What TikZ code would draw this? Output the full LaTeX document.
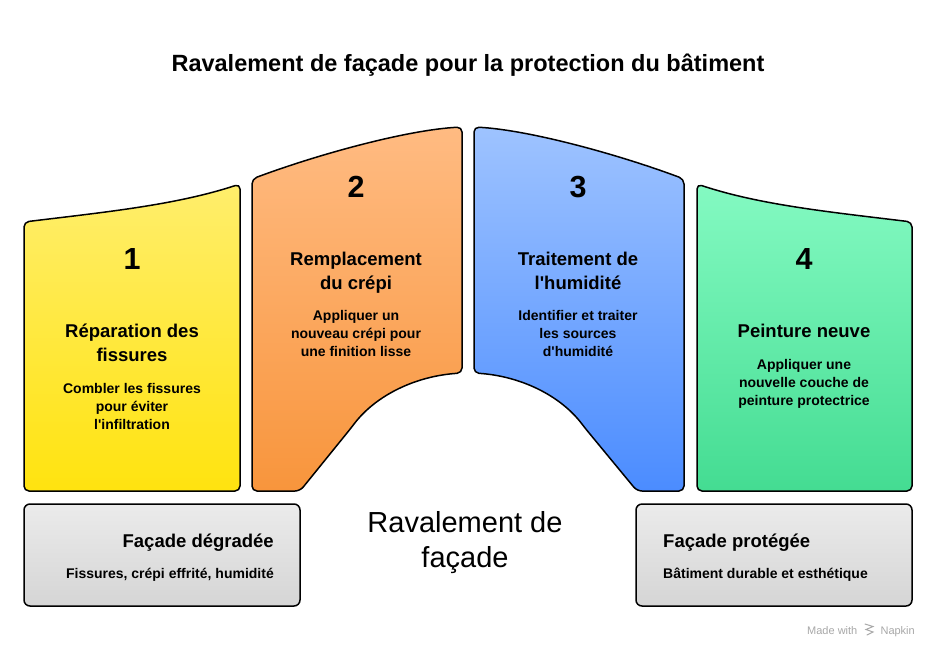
\documentclass[tikz,border=0pt]{standalone}
\usepackage{fontspec}
\setmainfont{Liberation Sans}
\definecolor{ytop}{HTML}{FFEE6C}
\definecolor{ybot}{HTML}{FFE30F}
\definecolor{otop}{HTML}{FFBB82}
\definecolor{obot}{HTML}{F8953C}
\definecolor{btop}{HTML}{9EC3FF}
\definecolor{bbot}{HTML}{4B8CFF}
\definecolor{gtop}{HTML}{84FAC2}
\definecolor{gbot}{HTML}{44DC92}
\definecolor{boxtop}{HTML}{EBEBEB}
\definecolor{boxbot}{HTML}{D5D5D5}
\definecolor{wm}{HTML}{A8A8A8}
\begin{document}
\begin{tikzpicture}[x=1pt,y=-1pt,
  panel/.style={draw=black, line width=1.5pt, rounded corners=5pt, line join=round},
  gbox/.style={draw=black, line width=1.5pt, rounded corners=6pt, top color=boxtop, bottom color=boxbot},
  num/.style={font=\bfseries\fontsize{30.5}{36}\selectfont, anchor=base, inner sep=0pt},
  ttl/.style={font=\bfseries\fontsize{18.5}{22}\selectfont, anchor=base, inner sep=0pt},
  body/.style={font=\bfseries\fontsize{14}{17}\selectfont, anchor=base, inner sep=0pt},
  big/.style={font=\fontsize{29}{34}\selectfont, anchor=base, inner sep=0pt},
]
\useasboundingbox[fill=white] (0,0) rectangle (936,654);

% title
\node[font=\bfseries\fontsize{23.5}{28}\selectfont, anchor=base, inner sep=0pt] (title) at (468,71) {Ravalement de façade pour la protection du bâtiment};

% panels
\path[panel, top color=ytop, bottom color=ybot]
  (24,491) -- (24,222) .. controls (106,212) and (176,205) .. (240,184) -- (240,491) -- cycle;
\path[panel, top color=otop, bottom color=obot]
  (252,491) -- (252,179) .. controls (316,155) and (406,130) .. (462,127) -- (462,373)
  .. controls (416,376) and (376,395) .. (351,428) -- (300,491) -- cycle;
\path[panel, top color=btop, bottom color=bbot]
  (637,491) -- (585,428) .. controls (560,395) and (520,376) .. (474,373) -- (474,127)
  .. controls (530,130) and (620,155) .. (684,179) -- (684,491) -- cycle;
\path[panel, top color=gtop, bottom color=gbot]
  (697,491) -- (697,184) .. controls (760,205) and (830,212) .. (912,222) -- (912,491) -- cycle;

% panel 1
\node[num] (n1) at (132,269) {1};
\node[ttl] (t1a) at (132,337) {Réparation des};
\node[ttl] (t1b) at (132,361) {fissures};
\node[body] (d1a) at (132,393) {Combler les fissures};
\node[body] (d1b) at (132,411) {pour éviter};
\node[body] (d1c) at (132,429) {l\textquotesingle infiltration};

% panel 2
\node[num] (n2) at (356,197) {2};
\node[ttl] (t2a) at (356,265) {Remplacement};
\node[ttl] (t2b) at (356,289) {du crépi};
\node[body] (d2a) at (356,320) {Appliquer un};
\node[body] (d2b) at (356,338) {nouveau crépi pour};
\node[body] (d2c) at (356,356) {une finition lisse};

% panel 3
\node[num] (n3) at (578,197) {3};
\node[ttl] (t3a) at (578,265) {Traitement de};
\node[ttl] (t3b) at (578,289) {l\textquotesingle humidité};
\node[body] (d3a) at (578,320) {Identifier et traiter};
\node[body] (d3b) at (578,338) {les sources};
\node[body] (d3c) at (578,356) {d\textquotesingle humidité};

% panel 4
\node[num] (n4) at (804,269) {4};
\node[ttl] (t4a) at (804,337) {Peinture neuve};
\node[body] (d4a) at (804,369) {Appliquer une};
\node[body] (d4b) at (804,387) {nouvelle couche de};
\node[body] (d4c) at (804,405) {peinture protectrice};

% bottom boxes
\path[gbox] (24,504) rectangle (300,606);
\path[gbox] (636,504) rectangle (912,606);
\node[ttl, anchor=base east] (l1) at (274,547) {Façade dégradée};
\node[body, anchor=base east] (l2) at (274,578) {Fissures, crépi effrité, humidité};
\node[ttl, anchor=base west] (r1) at (663,547) {Façade protégée};
\node[body, anchor=base west] (r2) at (663,578) {Bâtiment durable et esthétique};

% center
\node[big] (c1) at (465,532) {Ravalement de};
\node[big] (c2) at (465,567) {façade};

% watermark
\node[font=\fontsize{11}{13}\selectfont, text=wm, anchor=base west, inner sep=0pt] (wm1) at (807,634) {Made with};
\node[font=\fontsize{11}{13}\selectfont, text=wm, anchor=base east, inner sep=0pt] (wm2) at (915,634) {Napkin};
\draw[wm, line width=1pt, line cap=round] (865,624) -- (873,626.5) -- (866,629.5) -- (873,632) -- (867,635);
\end{tikzpicture}
\end{document}
